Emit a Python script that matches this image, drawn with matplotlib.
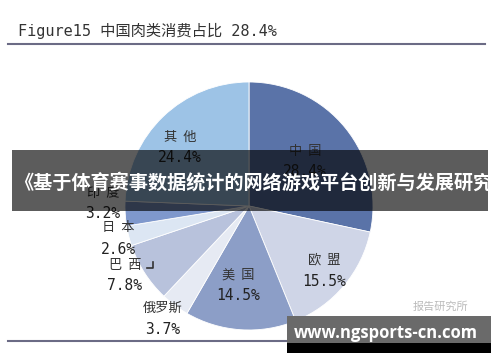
import matplotlib.pyplot as plt
from matplotlib.patches import Rectangle

plt.rcParams['font.family'] = ['Noto Sans CJK SC', 'DejaVu Sans']

# share of world meat consumption
regions = ["中国", "欧盟", "美国", "俄罗斯", "巴西", "日本", "印度", "其他"]
shares = [28.4, 15.5, 14.5, 3.7, 7.8, 2.6, 3.2, 24.4]
colors = ["#5a73a8", "#cfd5e7", "#8c9ec7", "#e6eaf3", "#b8c2dc", "#dce6f3", "#7f98cc", "#9dc3e6"]

# label anchor points (pixels from top-left)
label_pos = [(305, 151), (324, 260), (238, 275), (163, 308),
             (125, 265), (118, 228), (103, 193), (180, 137)]

W, H = 500, 362
fig = plt.figure(figsize=(5, 3.62), dpi=100)
ax = fig.add_axes([0, 0, 1, 1])

cx, cy, r = 249, 206, 124
ax.pie(shares, colors=colors, startangle=90, counterclock=False,
       center=(cx, H - cy), radius=r, frame=True,
       wedgeprops=dict(edgecolor='white', linewidth=0.6))
ax.set_xlim(0, W)
ax.set_ylim(0, H)
ax.set_aspect('equal')
ax.axis('off')

for name, val, (x, y) in zip(regions, shares, label_pos):
    ax.text(x, H - y, "  ".join(name) if len(name) == 2 else name,
            ha='center', va='center', fontsize=9.5, color='#333333')
    ax.text(x, H - y - 21, f"{val:.1f}%", ha='center', va='center',
            fontsize=10.5, color='#222222', family=['DejaVu Sans Mono'])

# small leader mark near 巴西
ax.plot([147, 153, 153], [H - 268, H - 268, H - 262], color='#333333', lw=1.2)

# title and rules
ax.text(18, H - 31, "Figure15 中国肉类消费占比 28.4%", ha='left', va='center',
        fontsize=11, color='#333333', family=['DejaVu Sans Mono', 'Noto Sans CJK SC'])
ax.plot([8, 485], [H - 44, H - 44], color='#6b6b85', lw=1.5)
ax.plot([8, 490], [H - 341, H - 341], color='#6b6b85', lw=1.5)

# overlay banner
banner = Rectangle((12, H - 211), 476, 61, facecolor='black', alpha=0.64,
                   edgecolor='none', zorder=5)
ax.add_patch(banner)
t = ax.text(14, H - 183, "《基于体育赛事数据统计的网络游戏平台创新与发展研究》",
            ha='left', va='center', fontsize=13.8, fontweight='bold',
            color='white', zorder=6)
t.set_clip_path(banner)

# watermark
ax.text(440, H - 307, "报告研究所", ha='center', va='center', fontsize=8,
        color='#bbbbbb', zorder=4)
ax.add_patch(Rectangle((287, H - 343), 204, 27, facecolor='#6a6a6a',
                       edgecolor='none', zorder=5))
ax.add_patch(Rectangle((287, H - 353), 204, 10, facecolor='black',
                       edgecolor='none', zorder=5))
ax.text(386, H - 333, "www.ngsports-cn.com", ha='center', va='center',
        fontsize=12, fontweight='bold', color='white', zorder=6,
        family=['Open Sans', 'DejaVu Sans'])

fig.savefig("out.png", dpi=100)
